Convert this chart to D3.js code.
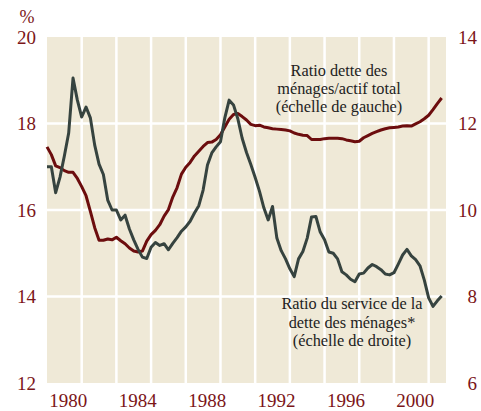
<!DOCTYPE html>
<html>
<head>
<meta charset="utf-8">
<script src="https://cdn.jsdelivr.net/npm/d3@7"></script>
<style>
  body { margin: 0; background: #fff; }
  text { font-family: "Liberation Serif", "Times New Roman", serif; }
</style>
</head>
<body>
<div id="chart"></div>
<script>
// quarterly series, first quarter 1979
var startYear = 1979;

// ratio dette des ménages / actif total (left scale, %)
var debtAssets = [
  17.46, 17.28, 17.02, 16.98, 16.91, 16.87, 16.87, 16.73, 16.54, 16.33,
  15.97, 15.59, 15.30, 15.30, 15.33, 15.31, 15.37, 15.29, 15.22, 15.12,
  15.05, 15.03, 15.05, 15.28, 15.43, 15.53, 15.66, 15.86, 16.01, 16.30,
  16.52, 16.83, 16.99, 17.10, 17.25, 17.36, 17.47, 17.56, 17.57, 17.63,
  17.74, 17.92, 18.10, 18.21, 18.23, 18.16, 18.08, 17.98, 17.95, 17.96,
  17.92, 17.90, 17.88, 17.87, 17.86, 17.85, 17.83, 17.78, 17.75, 17.73,
  17.72, 17.63, 17.63, 17.63, 17.65, 17.66, 17.66, 17.66, 17.65, 17.62,
  17.60, 17.58, 17.59, 17.67, 17.72, 17.77, 17.81, 17.85, 17.88, 17.90,
  17.91, 17.92, 17.94, 17.95, 17.94, 17.99, 18.04, 18.11, 18.19, 18.32,
  18.46, 18.59
];

// ratio du service de la dette des ménages (right scale, %)
var debtService = [
  11.00, 11.00, 10.40, 10.76, 11.25, 11.78, 13.05, 12.54, 12.15, 12.38,
  12.13, 11.50, 11.06, 10.82, 10.23, 10.00, 10.00, 9.77, 9.88, 9.56,
  9.31, 9.09, 8.91, 8.88, 9.14, 9.25, 9.18, 9.22, 9.08, 9.23,
  9.36, 9.51, 9.61, 9.74, 9.93, 10.10, 10.46, 11.04, 11.32, 11.46,
  11.58, 12.13, 12.54, 12.43, 12.11, 11.66, 11.33, 11.05, 10.75, 10.43,
  10.05, 9.77, 10.08, 9.35, 9.06, 8.87, 8.64, 8.46, 8.87, 9.04,
  9.35, 9.84, 9.85, 9.49, 9.31, 9.03, 9.00, 8.87, 8.57, 8.50,
  8.40, 8.34, 8.52, 8.54, 8.66, 8.74, 8.69, 8.62, 8.52, 8.50,
  8.55, 8.75, 8.96, 9.09, 8.94, 8.85, 8.71, 8.38, 7.97, 7.77,
  7.90, 8.01
];

var yearTicks = [1980, 1984, 1988, 1992, 1996, 2000];
var gridYears = [1981, 1983, 1985, 1987, 1989, 1991, 1993, 1995, 1997, 1999, 2001];
var leftTicks = [12, 14, 16, 18, 20];
var leftGrid = [14, 16, 18];
var rightTicks = [6, 8, 10, 12, 14];

var labelDebt = ["Ratio dette des", "ménages/actif total", "(échelle de gauche)"];
var labelService = ["Ratio du service de la", "dette des ménages*", "(échelle de droite)"];

var margin = {top: 37, right: 35, bottom: 28, left: 47},
    width = 481 - margin.left - margin.right,
    height = 411 - margin.top - margin.bottom;

var axisColor = "#7b1518",
    bg = "#efe9d7",
    red = "#6c0d0e",
    dark = "#36433f";

var svg = d3.select("#chart")
  .append("svg")
    .attr("width", 481)
    .attr("height", 411)
  .append("g")
    .attr("transform", "translate(" + margin.left + "," + margin.top + ")");

var x = d3.scaleLinear()
  .domain([1979, 2002])
  .range([0, width]);

var yLeft = d3.scaleLinear()
  .domain([12, 20])
  .range([height, 0]);

var yRight = d3.scaleLinear()
  .domain([6, 14])
  .range([height, 0]);

// background
svg.append("rect")
  .attr("width", width)
  .attr("height", height)
  .attr("fill", bg);

// white grid
svg.selectAll(".vgrid")
  .data(gridYears)
  .enter()
  .append("line")
    .attr("x1", d => x(d))
    .attr("x2", d => x(d))
    .attr("y1", 0)
    .attr("y2", height)
    .attr("stroke", "#fff")
    .attr("stroke-width", 2.5);

svg.selectAll(".hgrid")
  .data(leftGrid)
  .enter()
  .append("line")
    .attr("x1", 0)
    .attr("x2", width)
    .attr("y1", d => yLeft(d))
    .attr("y2", d => yLeft(d))
    .attr("stroke", "#fff")
    .attr("stroke-width", 2.5);

// lines
var quarter = (d, i) => startYear + i / 4;

svg.append("path")
  .datum(debtAssets)
  .attr("fill", "none")
  .attr("stroke", red)
  .attr("stroke-width", 3)
  .attr("stroke-linejoin", "round")
  .attr("d", d3.line()
    .x((d, i) => x(quarter(d, i)))
    .y(d => yLeft(d)));

svg.append("path")
  .datum(debtService)
  .attr("fill", "none")
  .attr("stroke", dark)
  .attr("stroke-width", 3)
  .attr("stroke-linejoin", "round")
  .attr("d", d3.line()
    .x((d, i) => x(quarter(d, i)))
    .y(d => yRight(d)));

// axes
var xAxis = svg.append("g")
  .attr("transform", "translate(3.5," + height + ")")
  .call(d3.axisBottom(x).tickValues(yearTicks).tickSize(0).tickPadding(10.5).tickFormat(d3.format("d")));

var leftAxis = svg.append("g")
  .call(d3.axisLeft(yLeft).tickValues(leftTicks).tickSize(0).tickPadding(11));

var rightAxis = svg.append("g")
  .attr("transform", "translate(" + width + ",0)")
  .call(d3.axisRight(yRight).tickValues(rightTicks).tickSize(0).tickPadding(31));

rightAxis.selectAll("text").attr("text-anchor", "end");

[xAxis, leftAxis, rightAxis].forEach(function(a) {
  a.select(".domain").remove();
  a.selectAll("text")
    .style("font-family", "'Liberation Serif', 'Times New Roman', serif")
    .style("font-size", "19px")
    .attr("fill", axisColor);
});

svg.append("text")
  .attr("x", -20)
  .attr("y", -14)
  .attr("text-anchor", "middle")
  .attr("fill", axisColor)
  .style("font-size", "18px")
  .text("%");

// annotations
svg.append("g")
  .selectAll("text")
  .data(labelDebt)
  .enter()
  .append("text")
    .attr("x", 339 - margin.left)
    .attr("y", (d, i) => 76 - margin.top + i * 18)
    .attr("text-anchor", "middle")
    .attr("fill", "#222")
    .style("font-size", "16.3px")
    .text(d => d);

svg.append("g")
  .selectAll("text")
  .data(labelService)
  .enter()
  .append("text")
    .attr("x", 352 - margin.left)
    .attr("y", (d, i) => 309 - margin.top + i * 18.5)
    .attr("text-anchor", "middle")
    .attr("fill", "#222")
    .style("font-size", "16.3px")
    .text(d => d);
</script>
</body>
</html>
